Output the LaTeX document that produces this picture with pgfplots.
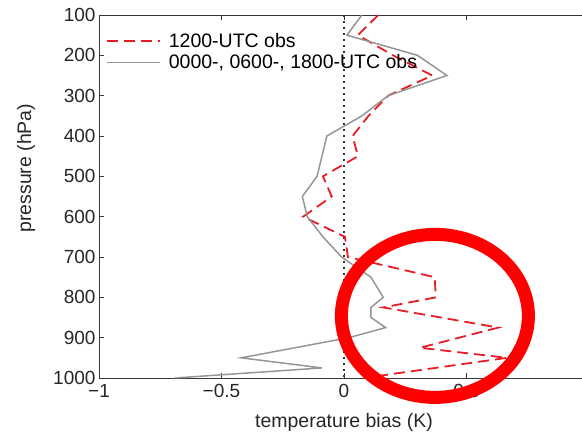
\documentclass[border=0pt]{standalone}
\usepackage{fontspec}
\setmainfont{Liberation Sans}
\usepackage{pgfplots}
\pgfplotsset{compat=1.18}

\definecolor{obsred}{RGB}{232,28,36}
\definecolor{obsgray}{RGB}{150,150,150}
\definecolor{axgray}{RGB}{55,55,55}

\begin{document}
\begin{tikzpicture}
\begin{axis}[
  at={(0,0)}, anchor=south west,
  scale only axis,
  width=490pt, height=363pt,
  xmin=-1, xmax=1,
  ymin=100, ymax=1000,
  y dir=reverse,
  clip=false,
  xtick={-1,-0.5,0,0.5,1},
  xticklabels={−1,−0.5,0,0.5,},
  ytick={100,200,300,400,500,600,700,800,900,1000},
  yticklabels={100,200,300,400,500,600,700,800,900,1000},
  tick align=inside,
  major tick length=5pt,
  axis line style={axgray, line width=0.9pt},
  tick style={axgray, line width=0.9pt},
  ticklabel style={font=\fontsize{19}{22}\selectfont, text=black!85},
  xticklabel style={yshift=-2.5pt},
  every axis x label/.style={at={(axis description cs:0.5,-0.135)}, anchor=base,
    font=\fontsize{19.5}{22}\selectfont, text=black!85},
  every axis y label/.style={at={(axis description cs:-0.149,0.578)}, anchor=center,
    rotate=90, font=\fontsize{19.5}{22}\selectfont, text=black!85},
  xlabel={temperature bias (K)},
  ylabel={pressure (hPa)},
  legend style={at={(axis description cs:0.012,0.958)}, anchor=north west,
    draw=none, fill=none, font=\fontsize{19.5}{22}\selectfont,
    row sep=1.5pt, inner sep=1pt},
  legend cell align=left,
  legend image code/.code={\draw[#1] (0pt,0pt) -- (53pt,0pt); \path (59pt,0pt);},
]

% zero line
\addplot[black!80, line width=1.3pt, dash pattern=on 1.5pt off 4.5pt, forget plot]
  coordinates {(0,100) (0,1000)};

% 1200 UTC
\addplot[obsred, line width=1.8pt, dash pattern=on 11pt off 6pt] coordinates {
  (0.14,100) (0.057,150) (0.20,200) (0.36,250) (0.18,300) (0.10,350)
  (0.035,400) (0.057,450) (-0.086,500) (-0.05,550) (-0.167,600)
  (0.004,650) (0.016,700) (0.37,750) (0.375,800) (0.16,825)
  (0.63,875) (0.31,925) (0.665,950) (0.08,1000)
};
\addlegendentry{1200-UTC obs}

% other times
\addplot[obsgray, line width=1.5pt] coordinates {
  (0.073,100) (0.012,150) (0.30,200) (0.42,250) (0.18,300) (0.073,350)
  (-0.07,400) (-0.09,450) (-0.11,500) (-0.17,550) (-0.15,600)
  (-0.086,650) (-0.01,700) (0.11,750) (0.16,800) (0.11,825)
  (0.11,850) (0.17,875) (0.02,900) (-0.20,925) (-0.42,950)
  (-0.09,975) (-0.69,1000)
};
\addlegendentry{0000-, 0600-, 1800-UTC obs}

% highlight
\draw[red, line width=13pt] (axis cs:0.371,846) ellipse [x radius=93.5pt, y radius=81.5pt];
\end{axis}
\pgfresetboundingbox
\path (-99pt,-58pt) rectangle (483pt,378pt);
\end{tikzpicture}
\end{document}
